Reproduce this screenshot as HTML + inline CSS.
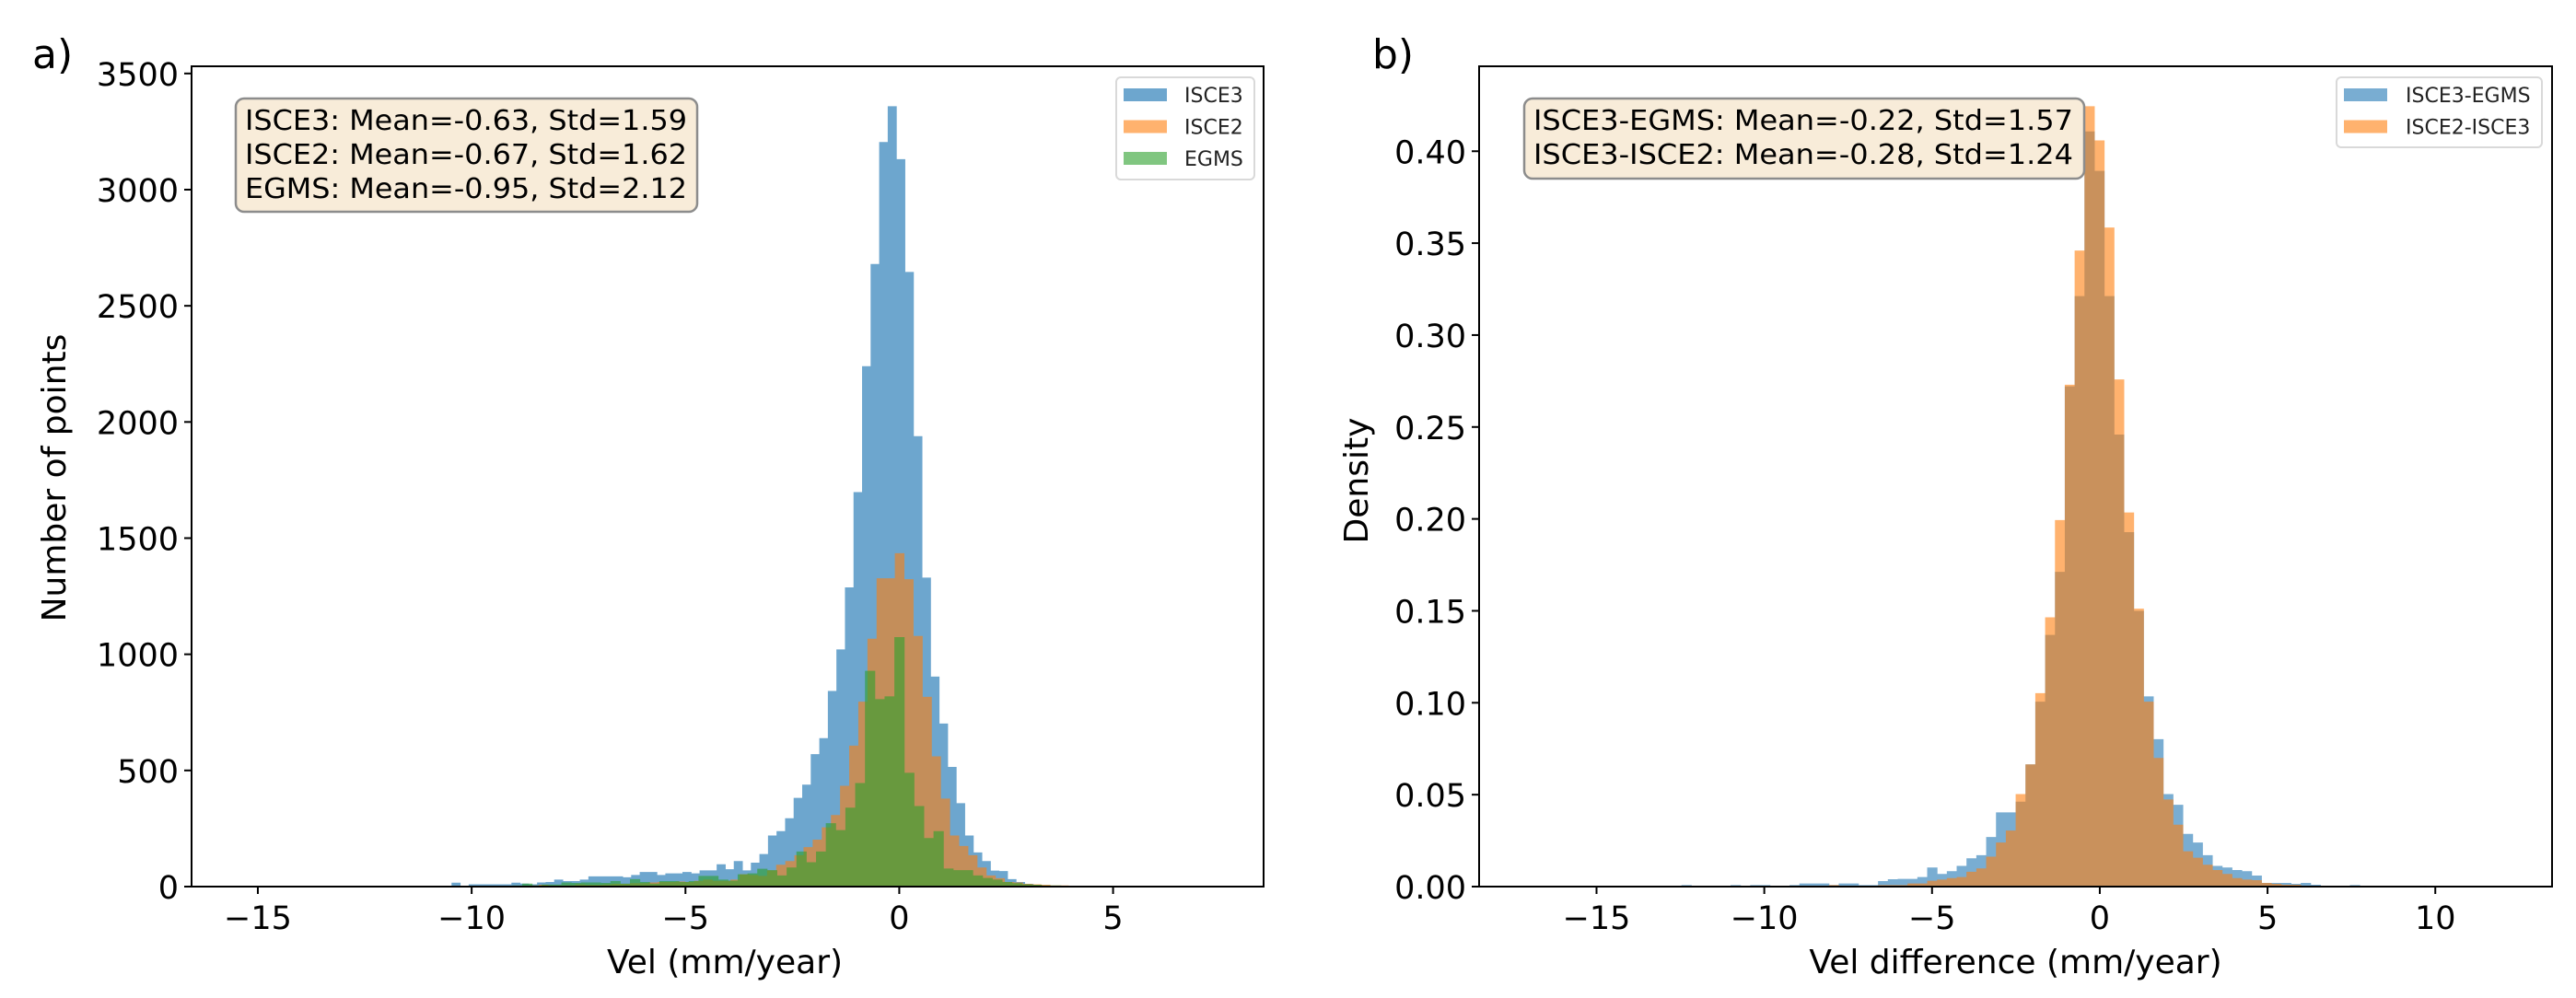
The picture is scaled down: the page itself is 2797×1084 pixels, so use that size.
<!DOCTYPE html>
<html><head><meta charset="utf-8"><style>
html,body{margin:0;padding:0;background:#fff;}
svg{display:block;font-family:"DejaVu Sans","Liberation Sans",sans-serif;}
</style></head><body>
<svg id="fig" width="2797" height="1084" viewBox="0 0 2797 1084" xmlns="http://www.w3.org/2000/svg">
<rect width="2797" height="1084" fill="#fff"/>
<g id="panelA"></g>
<g id="panelB"></g>
</svg>
<script>
// ---------- Panel a data ----------
const isce3Start = -13.27, isce3Width = 0.2;
const isce3Counts = [0,0,0,2,2,2,3,3,3,3,3,3,3,3,17,3,10,10,10,10,10,17,13,10,18,20,30,24,24,30,44,44,44,44,40,50,63,63,50,57,57,63,57,70,70,96,75,110,70,103,
140,220,239,294,382,439,570,639,842,1021,1288,1698,2240,2680,3205,3359,3131,2646,1939,1330,904,702,515,359,220,147,110,69,67,32,20,12,8,5,3,3,2,2,1,1,0,0,0,2];
const isce2Start = -12.70, isce2Width = 0.2135;
const isce2Counts = [1,1,1,2,2,2,2,2,2,2,2,2,2,2,3,3,3,3,3,5,8,5,5,6,10,8,8,10,12,12,15,15,18,20,20,22,20,25,30,25,25,30,53,50,46,70,
94,110,135,170,202,255,308,434,607,796,1067,1327,1327,1435,1323,1079,817,561,379,220,175,135,82,48,36,20,18,12,10,8,5,5,3,2,2];
const egmsStart = -12.71, egmsWidth = 0.229;
const egmsCounts = [2,2,2,2,2,2,3,2,2,3,2,3,3,3,3,4,5,13,5,9,9,18,16,18,18,16,24,13,32,20,13,24,24,20,24,46,46,30,26,53,57,77,
71,48,82,151,105,151,273,243,340,446,929,807,819,1074,490,347,209,239,78,71,71,48,37,30,20,15,10,8,5,5,3,3,2];
const aXTicks = [-15,-10,-5,0,5];
const aYTicks = [0,500,1000,1500,2000,2500,3000,3500];
const aStats = ["ISCE3: Mean=-0.63, Std=1.59","ISCE2: Mean=-0.67, Std=1.62","EGMS: Mean=-0.95, Std=2.12"];
const aLegend = ["ISCE3","ISCE2","EGMS"];

// ---------- Panel b data ----------
const diffStart = -12.47, diffWidth = 0.293;
const isce3EgmsDensity = [0.0008,0,0,0,0,0.0008,0,0.0008,0.0008,0,0,0.0008,0.0017,0.0017,0.0017,0.0008,0.0017,0.0017,0.0008,0.0008,0.003,0.004,0.0042,0.0042,0.0052,
0.0104,0.0069,0.0084,0.0113,0.0154,0.0171,0.0270,0.0404,0.0404,0.0462,0.0665,0.1006,0.1369,0.1712,0.2721,0.3212,0.4108,0.3893,0.3212,0.2459,0.1928,0.1500,0.1035,0.0802,0.0503,0.0445,0.0287,0.0240,0.0171,0.0113,0.0104,0.0090,0.0084,
0.006,0.002,0.002,0.002,0.0015,0.002,0.001,0.0005,0.0005,0.0005,0.0008,0.0005,0.0005,0,0,0];
const isce2Isce3Density = [0,0,0,0,0,0,0,0,0,0,0,0,0,0,0,0.0008,0,0,0,0,0.0008,0.0008,0.0008,0.0017,0.0017,
0.0032,0.0038,0.0046,0.0052,0.0081,0.0099,0.0163,0.0240,0.0305,0.0503,0.0665,0.1052,0.1465,0.1994,0.2730,0.3460,0.4245,0.4059,0.3585,0.2759,0.2035,0.1512,0.1006,0.0700,0.0474,0.0337,0.0192,0.0157,0.0119,0.0090,0.0069,0.0046,0.0038,
0.0035,0.002,0.0015,0.001,0.001,0.0005,0.0005,0.0005,0,0,0,0,0.0005,0,0,0.0005];
const bXTicks = [-15,-10,-5,0,5,10];
const bYTicks = [0,0.05,0.10,0.15,0.20,0.25,0.30,0.35,0.40];
const bStats = ["ISCE3-EGMS: Mean=-0.22, Std=1.57","ISCE3-ISCE2: Mean=-0.28, Std=1.24"];
const bLegend = ["ISCE3-EGMS","ISCE2-ISCE3"];

const NS = "http://www.w3.org/2000/svg";
function mk(parent, tag, attrs, text){
  const e = document.createElementNS(NS, tag);
  for (const k in attrs) e.setAttribute(k, attrs[k]);
  if (text !== undefined) e.textContent = text;
  parent.appendChild(e);
  return e;
}
function fmtMinus(v){ return String(v).replace('-', '\u2212'); }

function drawPanel(g, cfg){
  const L = cfg.left, R = cfg.right, T = 72, B = 963;
  const xs = v => L + (v - cfg.xmin) / (cfg.xmax - cfg.xmin) * (R - L);
  const ys = v => B - (v - 0) / cfg.ymax * (B - T);
  // bars: one path per series (avoids alpha seams)
  cfg.series.forEach((s) => {
    let d = '';
    s.values.forEach((v, i) => {
      if (v <= 0) return;
      const x0 = xs(s.start + i * s.width), x1 = xs(s.start + (i + 1) * s.width) + 0.5;
      const y = ys(v);
      d += 'M' + x0.toFixed(2) + ' ' + B + 'V' + y.toFixed(2) + 'H' + x1.toFixed(2) + 'V' + B + 'Z';
    });
    const p = mk(g, 'path', {d: d, fill: s.color, 'fill-opacity': s.alpha, 'fill-rule': 'nonzero'});
    
    
  });
  const fr = mk(g, 'rect', {x: L, y: T, width: R - L, height: B - T, fill: 'none', stroke: '#000', 'stroke-width': 2});
  
  
  cfg.xticks.forEach(t => {
    const x = xs(t);
    mk(g, 'line', {x1: x, y1: B, x2: x, y2: B + 8, stroke: '#000', 'stroke-width': 2});
    const tx = mk(g, 'text', {x: x, y: 1009, 'font-size': 35, 'text-anchor': 'middle', fill: '#000'}, fmtMinus(t));
    
    
  });
  cfg.yticks.forEach(t => {
    const y = ys(t);
    mk(g, 'line', {x1: L - 8, y1: y, x2: L, y2: y, stroke: '#000', 'stroke-width': 2});
    const ty = mk(g, 'text', {x: L - 14, y: y + 13, 'font-size': 35, 'text-anchor': 'end', fill: '#000'}, cfg.yfmt(t));
    
    
  });
  const xl = mk(g, 'text', {x: (L + R) / 2 + cfg.xlabOff, y: 1057, 'font-size': 36, 'text-anchor': 'middle', fill: '#000'}, cfg.xlabel);
  
  
  const yl = mk(g, 'text', {x: 0, y: 0, 'font-size': 36, 'text-anchor': 'middle', fill: '#000', transform: 'translate(' + cfg.ylabX + ',' + cfg.ylabY + ') rotate(-90)'}, cfg.ylabel);
  
  
  const pl = mk(g, 'text', {x: cfg.letterX, y: 74, 'font-size': 44, fill: '#000'}, cfg.letter);
  
  
  const sb = mk(g, 'g', {});
  
  
  mk(sb, 'rect', {x: cfg.box.x, y: 107, width: cfg.box.w, height: cfg.box.h, rx: 9, fill: '#f8ecd9', stroke: '#8c8c8c', 'stroke-width': 2.5});
  cfg.stats.forEach((s, i) => {
    const st = mk(sb, 'text', {x: cfg.box.x + 10, y: 141 + i * 37, 'font-size': 30, fill: '#000', textLength: cfg.box.tl, lengthAdjust: 'spacingAndGlyphs'}, s);
    
    
  });
  const lg = mk(g, 'g', {});
  
  
  mk(lg, 'rect', {x: cfg.leg.x, y: 84, width: cfg.leg.w, height: cfg.leg.h, rx: 5, fill: '#fff', 'fill-opacity': 0.8, stroke: '#d9d9d9', 'stroke-width': 2});
  cfg.legend.forEach((name, i) => {
    const cy = 103 + i * 34.5;
    const s = cfg.series[i];
    const e = mk(lg, 'g', {});
    
    
    mk(e, 'rect', {x: cfg.leg.x + 8, y: cy - 7, width: 47, height: 14, fill: s.color, 'fill-opacity': s.alpha});
    mk(e, 'text', {x: cfg.leg.x + cfg.leg.tx, y: cy + 8, 'font-size': 22, fill: '#222'}, name);
  });
}

drawPanel(document.getElementById('panelA'), {
  left: 208, right: 1372, xmin: -16.55, xmax: 8.52, ymax: 3531,
  xticks: aXTicks, yticks: aYTicks, yfmt: v => String(v),
  xlabel: 'Vel (mm/year)', xlabOff: -3, ylabel: 'Number of points', ylabX: 71, ylabY: 519,
  letter: 'a)', letterX: 35,
  stats: aStats, box: {x: 256, w: 501, h: 123, tl: 480},
  legend: aLegend, leg: {x: 1212, w: 150, h: 111, tx: 74},
  series: [
    {name: 'ISCE3', start: isce3Start, width: isce3Width, values: isce3Counts, color: '#1f77b4', alpha: 0.65},
    {name: 'ISCE2', start: isce2Start, width: isce2Width, values: isce2Counts, color: '#ff7f0e', alpha: 0.6},
    {name: 'EGMS', start: egmsStart, width: egmsWidth, values: egmsCounts, color: '#2ca02c', alpha: 0.6}
  ]
});
drawPanel(document.getElementById('panelB'), {
  left: 1606, right: 2771, xmin: -18.5, xmax: 13.48, ymax: 0.4462,
  xticks: bXTicks, yticks: bYTicks, yfmt: v => v.toFixed(2),
  xlabel: 'Vel difference (mm/year)', xlabOff: 0, ylabel: 'Density', ylabX: 1485, ylabY: 522,
  letter: 'b)', letterX: 1490,
  stats: bStats, box: {x: 1655, w: 608, h: 87, tl: 586},
  legend: bLegend, leg: {x: 2537, w: 223, h: 76, tx: 75},
  series: [
    {name: 'ISCE3-EGMS', start: diffStart, width: diffWidth, values: isce3EgmsDensity, color: '#1f77b4', alpha: 0.6},
    {name: 'ISCE2-ISCE3', start: diffStart, width: diffWidth, values: isce2Isce3Density, color: '#ff7f0e', alpha: 0.6}
  ]
});
</script>
</body></html>
